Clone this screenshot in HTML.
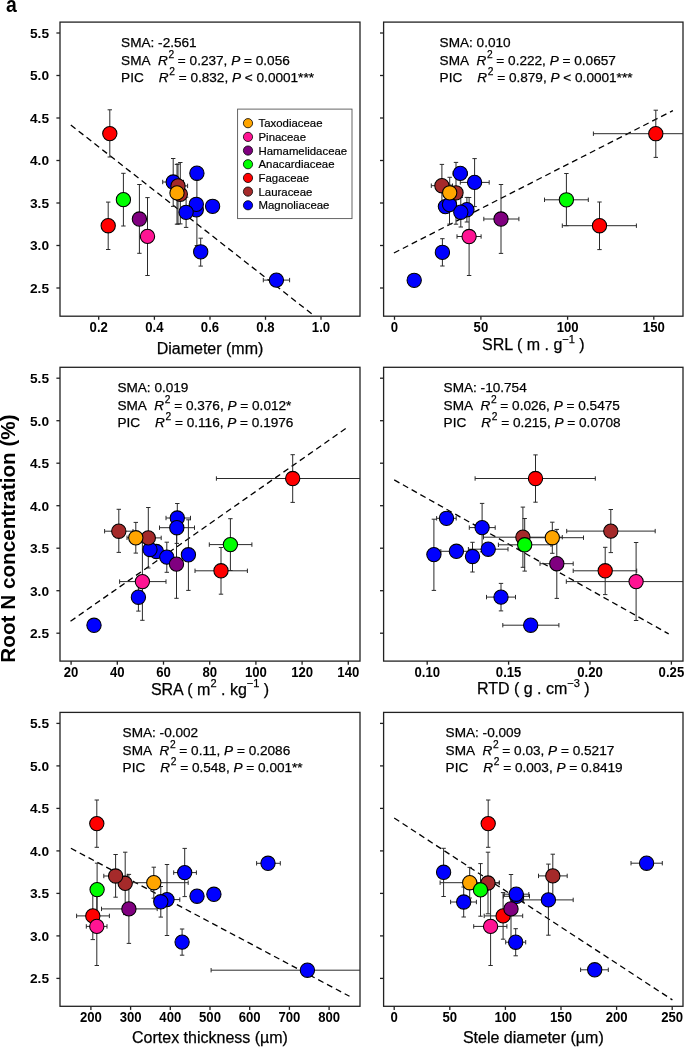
<!DOCTYPE html><html><head><meta charset="utf-8"><style>html,body{margin:0;padding:0;background:#fff;}svg{display:block;will-change:transform;}</style></head><body>
<svg width="685" height="1047" viewBox="0 0 685 1047" font-family='"Liberation Sans", sans-serif'>
<rect width="685" height="1047" fill="#fff"/>
<text transform="translate(6.0,11.8) scale(0.88,1)" font-size="22" font-weight="bold" fill="#000">a</text>
<text transform="translate(15.1,538.5) rotate(-90)" text-anchor="middle" font-size="20.7" font-weight="bold" fill="#000">Root N concentration (%)</text>
<clipPath id="c1"><rect x="60" y="22.1" width="300" height="294.1"/></clipPath>
<rect x="60" y="22.1" width="300" height="294.1" fill="none" stroke="#222" stroke-width="1.3"/>
<line x1="56.4" y1="33" x2="60" y2="33" stroke="#222" stroke-width="1.3"/>
<text transform="translate(49,37.8) scale(1,1)" text-anchor="end" font-size="13.7" font-weight="bold" fill="#000">5.5</text>
<line x1="56.4" y1="75.5" x2="60" y2="75.5" stroke="#222" stroke-width="1.3"/>
<text transform="translate(49,80.3) scale(1,1)" text-anchor="end" font-size="13.7" font-weight="bold" fill="#000">5.0</text>
<line x1="56.4" y1="118" x2="60" y2="118" stroke="#222" stroke-width="1.3"/>
<text transform="translate(49,122.8) scale(1,1)" text-anchor="end" font-size="13.7" font-weight="bold" fill="#000">4.5</text>
<line x1="56.4" y1="160.5" x2="60" y2="160.5" stroke="#222" stroke-width="1.3"/>
<text transform="translate(49,165.3) scale(1,1)" text-anchor="end" font-size="13.7" font-weight="bold" fill="#000">4.0</text>
<line x1="56.4" y1="203" x2="60" y2="203" stroke="#222" stroke-width="1.3"/>
<text transform="translate(49,207.8) scale(1,1)" text-anchor="end" font-size="13.7" font-weight="bold" fill="#000">3.5</text>
<line x1="56.4" y1="245.5" x2="60" y2="245.5" stroke="#222" stroke-width="1.3"/>
<text transform="translate(49,250.3) scale(1,1)" text-anchor="end" font-size="13.7" font-weight="bold" fill="#000">3.0</text>
<line x1="56.4" y1="288" x2="60" y2="288" stroke="#222" stroke-width="1.3"/>
<text transform="translate(49,292.8) scale(1,1)" text-anchor="end" font-size="13.7" font-weight="bold" fill="#000">2.5</text>
<line x1="98.7" y1="316.2" x2="98.7" y2="319.8" stroke="#222" stroke-width="1.3"/>
<text transform="translate(98.7,331.7) scale(0.92,1)" text-anchor="middle" font-size="14.3" font-weight="bold" fill="#000">0.2</text>
<line x1="154.4" y1="316.2" x2="154.4" y2="319.8" stroke="#222" stroke-width="1.3"/>
<text transform="translate(154.4,331.7) scale(0.92,1)" text-anchor="middle" font-size="14.3" font-weight="bold" fill="#000">0.4</text>
<line x1="210" y1="316.2" x2="210" y2="319.8" stroke="#222" stroke-width="1.3"/>
<text transform="translate(210,331.7) scale(0.92,1)" text-anchor="middle" font-size="14.3" font-weight="bold" fill="#000">0.6</text>
<line x1="265.5" y1="316.2" x2="265.5" y2="319.8" stroke="#222" stroke-width="1.3"/>
<text transform="translate(265.5,331.7) scale(0.92,1)" text-anchor="middle" font-size="14.3" font-weight="bold" fill="#000">0.8</text>
<line x1="321" y1="316.2" x2="321" y2="319.8" stroke="#222" stroke-width="1.3"/>
<text transform="translate(321,331.7) scale(0.92,1)" text-anchor="middle" font-size="14.3" font-weight="bold" fill="#000">1.0</text>
<text x="210" y="353.5" text-anchor="middle" font-size="16" fill="#000" stroke="#000" stroke-width="0.25">Diameter (mm)</text>
<g font-size="13.6" fill="#000" stroke="#000" stroke-width="0.25">
<text x="121.1" y="46.7">SMA: -2.561</text>
<text x="121.1" y="64.5">SMA</text>
<text x="158" y="64.5"><tspan font-style="italic">R</tspan><tspan dx="0.6" dy="-6.5" font-size="10.2">2</tspan><tspan dy="6.5"> = 0.237, </tspan><tspan font-style="italic">P</tspan> = 0.056</text>
<text x="121.1" y="81.5">PIC</text>
<text x="158.8" y="81.5"><tspan font-style="italic">R</tspan><tspan dx="0.6" dy="-6.5" font-size="10.2">2</tspan><tspan dy="6.5"> = 0.832, </tspan><tspan font-style="italic">P</tspan> &lt; 0.0001***</text>
</g>
<g clip-path="url(#c1)">
<line x1="70.8" y1="125" x2="311.8" y2="313.9" stroke="#000" stroke-width="1.3" stroke-dasharray="6 4"/>
<g stroke="#2a2a2a" stroke-width="1" fill="none">
<path d="M109.8 109.8V157M107.6 109.8h4.4M107.6 157h4.4"/>
<path d="M108.2 202.1V249.5M106 202.1h4.4M106 249.5h4.4"/>
<path d="M123.4 173.3V226M121.2 173.3h4.4M121.2 226h4.4"/>
<path d="M139.4 184.5V253.3M137.2 184.5h4.4M137.2 253.3h4.4"/>
<path d="M147.5 197.6V275.5M145.3 197.6h4.4M145.3 275.5h4.4"/>
<path d="M173.2 158.5V206.4M171 158.5h4.4M171 206.4h4.4"/>
<path d="M162.7 182H183.5M162.7 179.8v4.4M183.5 179.8v4.4"/>
<path d="M177 164.4V224.2M174.8 164.4h4.4M174.8 224.2h4.4"/>
<path d="M180.3 162.5V223.9M178.1 162.5h4.4M178.1 223.9h4.4"/>
<path d="M178 164V224M175.8 164h4.4M175.8 224h4.4"/>
<path d="M168.5 185.9H187.6M168.5 183.7v4.4M187.6 183.7v4.4"/>
<path d="M196.9 180V245.5M194.7 180h4.4M194.7 245.5h4.4"/>
<path d="M186.1 197.2V227.4M183.9 197.2h4.4M183.9 227.4h4.4"/>
<path d="M200.7 238.2V266.1M198.5 238.2h4.4M198.5 266.1h4.4"/>
<path d="M263.3 280.1H289.6M263.3 277.9v4.4M289.6 277.9v4.4"/>
</g>
<circle cx="173.2" cy="182" r="7.15" fill="#0000FF" stroke="#000" stroke-width="1.05"/>
<circle cx="196.9" cy="173.2" r="7.15" fill="#0000FF" stroke="#000" stroke-width="1.05"/>
<circle cx="196.3" cy="209.8" r="7.15" fill="#0000FF" stroke="#000" stroke-width="1.05"/>
<circle cx="196.3" cy="204.3" r="7.15" fill="#0000FF" stroke="#000" stroke-width="1.05"/>
<circle cx="186.1" cy="212.3" r="7.15" fill="#0000FF" stroke="#000" stroke-width="1.05"/>
<circle cx="212.6" cy="206.3" r="7.15" fill="#0000FF" stroke="#000" stroke-width="1.05"/>
<circle cx="200.7" cy="251.8" r="7.15" fill="#0000FF" stroke="#000" stroke-width="1.05"/>
<circle cx="276.4" cy="280.1" r="7.15" fill="#0000FF" stroke="#000" stroke-width="1.05"/>
<circle cx="180.3" cy="194.2" r="7.15" fill="#A52A2A" stroke="#000" stroke-width="1.05"/>
<circle cx="178" cy="185.9" r="7.15" fill="#A52A2A" stroke="#000" stroke-width="1.05"/>
<circle cx="109.8" cy="133.6" r="7.15" fill="#FF0000" stroke="#000" stroke-width="1.05"/>
<circle cx="108.2" cy="225.7" r="7.15" fill="#FF0000" stroke="#000" stroke-width="1.05"/>
<circle cx="177" cy="192.9" r="7.15" fill="#FFA500" stroke="#000" stroke-width="1.05"/>
<circle cx="123.4" cy="199.65" r="7.15" fill="#00FF00" stroke="#000" stroke-width="1.05"/>
<circle cx="147.5" cy="236.4" r="7.15" fill="#FF1493" stroke="#000" stroke-width="1.05"/>
<circle cx="139.4" cy="219" r="7.15" fill="#800080" stroke="#000" stroke-width="1.05"/>
</g>
<clipPath id="c2"><rect x="383.6" y="22.1" width="299.4" height="294.1"/></clipPath>
<rect x="383.6" y="22.1" width="299.4" height="294.1" fill="none" stroke="#222" stroke-width="1.3"/>
<line x1="380" y1="33" x2="383.6" y2="33" stroke="#222" stroke-width="1.3"/>
<line x1="380" y1="75.5" x2="383.6" y2="75.5" stroke="#222" stroke-width="1.3"/>
<line x1="380" y1="118" x2="383.6" y2="118" stroke="#222" stroke-width="1.3"/>
<line x1="380" y1="160.5" x2="383.6" y2="160.5" stroke="#222" stroke-width="1.3"/>
<line x1="380" y1="203" x2="383.6" y2="203" stroke="#222" stroke-width="1.3"/>
<line x1="380" y1="245.5" x2="383.6" y2="245.5" stroke="#222" stroke-width="1.3"/>
<line x1="380" y1="288" x2="383.6" y2="288" stroke="#222" stroke-width="1.3"/>
<line x1="394.5" y1="316.2" x2="394.5" y2="319.8" stroke="#222" stroke-width="1.3"/>
<text transform="translate(394.5,331.7) scale(0.92,1)" text-anchor="middle" font-size="14.3" font-weight="bold" fill="#000">0</text>
<line x1="480.9" y1="316.2" x2="480.9" y2="319.8" stroke="#222" stroke-width="1.3"/>
<text transform="translate(480.9,331.7) scale(0.92,1)" text-anchor="middle" font-size="14.3" font-weight="bold" fill="#000">50</text>
<line x1="567.6" y1="316.2" x2="567.6" y2="319.8" stroke="#222" stroke-width="1.3"/>
<text transform="translate(567.6,331.7) scale(0.92,1)" text-anchor="middle" font-size="14.3" font-weight="bold" fill="#000">100</text>
<line x1="653.8" y1="316.2" x2="653.8" y2="319.8" stroke="#222" stroke-width="1.3"/>
<text transform="translate(653.8,331.7) scale(0.92,1)" text-anchor="middle" font-size="14.3" font-weight="bold" fill="#000">150</text>
<text x="533.3" y="350" text-anchor="middle" font-size="16" fill="#000" stroke="#000" stroke-width="0.25">SRL ( m . g<tspan dy="-7.2" font-size="11">−1</tspan><tspan dy="7.2"> )</tspan></text>
<g font-size="13.6" fill="#000" stroke="#000" stroke-width="0.25">
<text x="439.6" y="46.7">SMA: 0.010</text>
<text x="439.6" y="64.5">SMA</text>
<text x="476.5" y="64.5"><tspan font-style="italic">R</tspan><tspan dx="0.6" dy="-6.5" font-size="10.2">2</tspan><tspan dy="6.5"> = 0.222, </tspan><tspan font-style="italic">P</tspan> = 0.0657</text>
<text x="439.6" y="81.5">PIC</text>
<text x="477.3" y="81.5"><tspan font-style="italic">R</tspan><tspan dx="0.6" dy="-6.5" font-size="10.2">2</tspan><tspan dy="6.5"> = 0.879, </tspan><tspan font-style="italic">P</tspan> &lt; 0.0001***</text>
</g>
<g clip-path="url(#c2)">
<line x1="393.9" y1="253" x2="672.9" y2="110.6" stroke="#000" stroke-width="1.3" stroke-dasharray="6 4"/>
<g stroke="#2a2a2a" stroke-width="1" fill="none">
<path d="M655.8 110.2V157.4M653.6 110.2h4.4M653.6 157.4h4.4"/>
<path d="M593.4 133.7H690M593.4 131.5v4.4M690 131.5v4.4"/>
<path d="M566.4 173.5V225.7M564.2 173.5h4.4M564.2 225.7h4.4"/>
<path d="M544.5 199.8H588.3M544.5 197.6v4.4M588.3 197.6v4.4"/>
<path d="M599.5 202V249.6M597.3 202h4.4M597.3 249.6h4.4"/>
<path d="M562.3 225.7H636.4M562.3 223.5v4.4M636.4 223.5v4.4"/>
<path d="M501 184.5V253.4M498.8 184.5h4.4M498.8 253.4h4.4"/>
<path d="M483.8 219H518.9M483.8 216.8v4.4M518.9 216.8v4.4"/>
<path d="M469.1 197.5V275.5M466.9 197.5h4.4M466.9 275.5h4.4"/>
<path d="M457 236.5H481.1M457 234.3v4.4M481.1 234.3v4.4"/>
<path d="M442.4 238.7V266M440.2 238.7h4.4M440.2 266h4.4"/>
<path d="M453 173.4H467.4M453 171.2v4.4M467.4 171.2v4.4"/>
<path d="M474.6 158.6V206.6M472.4 158.6h4.4M472.4 206.6h4.4"/>
<path d="M460.3 182.4H489.2M460.3 180.2v4.4M489.2 180.2v4.4"/>
<path d="M449.5 185V224.1M447.3 185h4.4M447.3 224.1h4.4"/>
<path d="M466.9 197.4V222M464.7 197.4h4.4M464.7 222h4.4"/>
<path d="M460.8 197.4V227M458.6 197.4h4.4M458.6 227h4.4"/>
<path d="M441.9 164.4V207M439.7 164.4h4.4M439.7 207h4.4"/>
<path d="M431.3 185.7H452.5M431.3 183.5v4.4M452.5 183.5v4.4"/>
<path d="M456 162.4V224.2M453.8 162.4h4.4M453.8 224.2h4.4"/>
<path d="M449.7 177.3V208.3M447.5 177.3h4.4M447.5 208.3h4.4"/>
</g>
<circle cx="442.4" cy="252.3" r="7.15" fill="#0000FF" stroke="#000" stroke-width="1.05"/>
<circle cx="414.2" cy="280.3" r="7.15" fill="#0000FF" stroke="#000" stroke-width="1.05"/>
<circle cx="460.3" cy="173.4" r="7.15" fill="#0000FF" stroke="#000" stroke-width="1.05"/>
<circle cx="474.6" cy="182.4" r="7.15" fill="#0000FF" stroke="#000" stroke-width="1.05"/>
<circle cx="445.4" cy="206.6" r="7.15" fill="#0000FF" stroke="#000" stroke-width="1.05"/>
<circle cx="449.5" cy="204.6" r="7.15" fill="#0000FF" stroke="#000" stroke-width="1.05"/>
<circle cx="466.9" cy="209.7" r="7.15" fill="#0000FF" stroke="#000" stroke-width="1.05"/>
<circle cx="460.8" cy="212.2" r="7.15" fill="#0000FF" stroke="#000" stroke-width="1.05"/>
<circle cx="441.9" cy="185.7" r="7.15" fill="#A52A2A" stroke="#000" stroke-width="1.05"/>
<circle cx="456" cy="192.8" r="7.15" fill="#A52A2A" stroke="#000" stroke-width="1.05"/>
<circle cx="655.8" cy="133.7" r="7.15" fill="#FF0000" stroke="#000" stroke-width="1.05"/>
<circle cx="599.5" cy="225.7" r="7.15" fill="#FF0000" stroke="#000" stroke-width="1.05"/>
<circle cx="449.7" cy="192.8" r="7.15" fill="#FFA500" stroke="#000" stroke-width="1.05"/>
<circle cx="566.4" cy="199.8" r="7.15" fill="#00FF00" stroke="#000" stroke-width="1.05"/>
<circle cx="469.1" cy="236.5" r="7.15" fill="#FF1493" stroke="#000" stroke-width="1.05"/>
<circle cx="501" cy="219" r="7.15" fill="#800080" stroke="#000" stroke-width="1.05"/>
</g>
<clipPath id="c3"><rect x="60" y="367.3" width="300" height="293.8"/></clipPath>
<rect x="60" y="367.3" width="300" height="293.8" fill="none" stroke="#222" stroke-width="1.3"/>
<line x1="56.4" y1="378.2" x2="60" y2="378.2" stroke="#222" stroke-width="1.3"/>
<text transform="translate(49,383) scale(1,1)" text-anchor="end" font-size="13.7" font-weight="bold" fill="#000">5.5</text>
<line x1="56.4" y1="420.7" x2="60" y2="420.7" stroke="#222" stroke-width="1.3"/>
<text transform="translate(49,425.5) scale(1,1)" text-anchor="end" font-size="13.7" font-weight="bold" fill="#000">5.0</text>
<line x1="56.4" y1="463.2" x2="60" y2="463.2" stroke="#222" stroke-width="1.3"/>
<text transform="translate(49,468) scale(1,1)" text-anchor="end" font-size="13.7" font-weight="bold" fill="#000">4.5</text>
<line x1="56.4" y1="505.7" x2="60" y2="505.7" stroke="#222" stroke-width="1.3"/>
<text transform="translate(49,510.5) scale(1,1)" text-anchor="end" font-size="13.7" font-weight="bold" fill="#000">4.0</text>
<line x1="56.4" y1="548.2" x2="60" y2="548.2" stroke="#222" stroke-width="1.3"/>
<text transform="translate(49,553) scale(1,1)" text-anchor="end" font-size="13.7" font-weight="bold" fill="#000">3.5</text>
<line x1="56.4" y1="590.7" x2="60" y2="590.7" stroke="#222" stroke-width="1.3"/>
<text transform="translate(49,595.5) scale(1,1)" text-anchor="end" font-size="13.7" font-weight="bold" fill="#000">3.0</text>
<line x1="56.4" y1="633.2" x2="60" y2="633.2" stroke="#222" stroke-width="1.3"/>
<text transform="translate(49,638) scale(1,1)" text-anchor="end" font-size="13.7" font-weight="bold" fill="#000">2.5</text>
<line x1="71.1" y1="661.1" x2="71.1" y2="664.7" stroke="#222" stroke-width="1.3"/>
<text transform="translate(71.1,676.6) scale(0.92,1)" text-anchor="middle" font-size="14.3" font-weight="bold" fill="#000">20</text>
<line x1="117.3" y1="661.1" x2="117.3" y2="664.7" stroke="#222" stroke-width="1.3"/>
<text transform="translate(117.3,676.6) scale(0.92,1)" text-anchor="middle" font-size="14.3" font-weight="bold" fill="#000">40</text>
<line x1="163.5" y1="661.1" x2="163.5" y2="664.7" stroke="#222" stroke-width="1.3"/>
<text transform="translate(163.5,676.6) scale(0.92,1)" text-anchor="middle" font-size="14.3" font-weight="bold" fill="#000">60</text>
<line x1="209.7" y1="661.1" x2="209.7" y2="664.7" stroke="#222" stroke-width="1.3"/>
<text transform="translate(209.7,676.6) scale(0.92,1)" text-anchor="middle" font-size="14.3" font-weight="bold" fill="#000">80</text>
<line x1="255.9" y1="661.1" x2="255.9" y2="664.7" stroke="#222" stroke-width="1.3"/>
<text transform="translate(255.9,676.6) scale(0.92,1)" text-anchor="middle" font-size="14.3" font-weight="bold" fill="#000">100</text>
<line x1="302.1" y1="661.1" x2="302.1" y2="664.7" stroke="#222" stroke-width="1.3"/>
<text transform="translate(302.1,676.6) scale(0.92,1)" text-anchor="middle" font-size="14.3" font-weight="bold" fill="#000">120</text>
<line x1="348.3" y1="661.1" x2="348.3" y2="664.7" stroke="#222" stroke-width="1.3"/>
<text transform="translate(348.3,676.6) scale(0.92,1)" text-anchor="middle" font-size="14.3" font-weight="bold" fill="#000">140</text>
<text x="210" y="694.6" text-anchor="middle" font-size="16" fill="#000" stroke="#000" stroke-width="0.25">SRA ( m<tspan dy="-7.2" font-size="11">2</tspan><tspan dy="7.2"> . kg</tspan><tspan dy="-7.2" font-size="11">−1</tspan><tspan dy="7.2"> )</tspan></text>
<g font-size="13.6" fill="#000" stroke="#000" stroke-width="0.25">
<text x="117.4" y="391.9">SMA: 0.019</text>
<text x="117.4" y="409.7">SMA</text>
<text x="154.3" y="409.7"><tspan font-style="italic">R</tspan><tspan dx="0.6" dy="-6.5" font-size="10.2">2</tspan><tspan dy="6.5"> = 0.376, </tspan><tspan font-style="italic">P</tspan> = 0.012*</text>
<text x="117.4" y="426.7">PIC</text>
<text x="155.1" y="426.7"><tspan font-style="italic">R</tspan><tspan dx="0.6" dy="-6.5" font-size="10.2">2</tspan><tspan dy="6.5"> = 0.116, </tspan><tspan font-style="italic">P</tspan> = 0.1976</text>
</g>
<g clip-path="url(#c3)">
<line x1="70.5" y1="621.3" x2="347.7" y2="427.1" stroke="#000" stroke-width="1.3" stroke-dasharray="6 4"/>
<g stroke="#2a2a2a" stroke-width="1" fill="none">
<path d="M292.7 454.7V502.4M290.5 454.7h4.4M290.5 502.4h4.4"/>
<path d="M216.4 478.5H370M216.4 476.3v4.4M370 476.3v4.4"/>
<path d="M230.4 518.7V570.5M228.2 518.7h4.4M228.2 570.5h4.4"/>
<path d="M209.3 544.6H251.9M209.3 542.4v4.4M251.9 542.4v4.4"/>
<path d="M221 547.5V594.2M218.8 547.5h4.4M218.8 594.2h4.4"/>
<path d="M195 570.8H247.4M195 568.6v4.4M247.4 568.6v4.4"/>
<path d="M118.8 509.3V552.4M116.6 509.3h4.4M116.6 552.4h4.4"/>
<path d="M104.6 531.2H133M104.6 529v4.4M133 529v4.4"/>
<path d="M135.8 522.4V553.1M133.6 522.4h4.4M133.6 553.1h4.4"/>
<path d="M127 537.8H144.6M127 535.6v4.4M144.6 535.6v4.4"/>
<path d="M148.3 507.5V568M146.1 507.5h4.4M146.1 568h4.4"/>
<path d="M135.4 537.9H161.2M135.4 535.7v4.4M161.2 535.7v4.4"/>
<path d="M177.3 503.5V532.5M175.1 503.5h4.4M175.1 532.5h4.4"/>
<path d="M166 518H190.5M166 515.8v4.4M190.5 515.8v4.4"/>
<path d="M176.8 512V543.4M174.6 512h4.4M174.6 543.4h4.4"/>
<path d="M159.5 527.7H194.5M159.5 525.5v4.4M194.5 525.5v4.4"/>
<path d="M166.8 542.2V572.3M164.6 542.2h4.4M164.6 572.3h4.4"/>
<path d="M188.4 519.8V590.4M186.2 519.8h4.4M186.2 590.4h4.4"/>
<path d="M176.5 529.9V598.3M174.3 529.9h4.4M174.3 598.3h4.4"/>
<path d="M142.4 542.6V620.3M140.2 542.6h4.4M140.2 620.3h4.4"/>
<path d="M119.6 581.6H166M119.6 579.4v4.4M166 579.4v4.4"/>
<path d="M138.4 583.3V611.1M136.2 583.3h4.4M136.2 611.1h4.4"/>
</g>
<circle cx="177.3" cy="518" r="7.15" fill="#0000FF" stroke="#000" stroke-width="1.05"/>
<circle cx="176.8" cy="527.7" r="7.15" fill="#0000FF" stroke="#000" stroke-width="1.05"/>
<circle cx="156.4" cy="551.5" r="7.15" fill="#0000FF" stroke="#000" stroke-width="1.05"/>
<circle cx="150" cy="549.5" r="7.15" fill="#0000FF" stroke="#000" stroke-width="1.05"/>
<circle cx="166.8" cy="557.1" r="7.15" fill="#0000FF" stroke="#000" stroke-width="1.05"/>
<circle cx="188.4" cy="554.8" r="7.15" fill="#0000FF" stroke="#000" stroke-width="1.05"/>
<circle cx="138.4" cy="597.2" r="7.15" fill="#0000FF" stroke="#000" stroke-width="1.05"/>
<circle cx="94" cy="625.3" r="7.15" fill="#0000FF" stroke="#000" stroke-width="1.05"/>
<circle cx="118.8" cy="531.2" r="7.15" fill="#A52A2A" stroke="#000" stroke-width="1.05"/>
<circle cx="148.3" cy="537.9" r="7.15" fill="#A52A2A" stroke="#000" stroke-width="1.05"/>
<circle cx="292.7" cy="478.5" r="7.15" fill="#FF0000" stroke="#000" stroke-width="1.05"/>
<circle cx="221" cy="570.8" r="7.15" fill="#FF0000" stroke="#000" stroke-width="1.05"/>
<circle cx="135.8" cy="537.8" r="7.15" fill="#FFA500" stroke="#000" stroke-width="1.05"/>
<circle cx="230.4" cy="544.6" r="7.15" fill="#00FF00" stroke="#000" stroke-width="1.05"/>
<circle cx="142.4" cy="581.6" r="7.15" fill="#FF1493" stroke="#000" stroke-width="1.05"/>
<circle cx="176.5" cy="564.1" r="7.15" fill="#800080" stroke="#000" stroke-width="1.05"/>
</g>
<clipPath id="c4"><rect x="383.6" y="367.3" width="299.4" height="293.8"/></clipPath>
<rect x="383.6" y="367.3" width="299.4" height="293.8" fill="none" stroke="#222" stroke-width="1.3"/>
<line x1="380" y1="378.2" x2="383.6" y2="378.2" stroke="#222" stroke-width="1.3"/>
<line x1="380" y1="420.7" x2="383.6" y2="420.7" stroke="#222" stroke-width="1.3"/>
<line x1="380" y1="463.2" x2="383.6" y2="463.2" stroke="#222" stroke-width="1.3"/>
<line x1="380" y1="505.7" x2="383.6" y2="505.7" stroke="#222" stroke-width="1.3"/>
<line x1="380" y1="548.2" x2="383.6" y2="548.2" stroke="#222" stroke-width="1.3"/>
<line x1="380" y1="590.7" x2="383.6" y2="590.7" stroke="#222" stroke-width="1.3"/>
<line x1="380" y1="633.2" x2="383.6" y2="633.2" stroke="#222" stroke-width="1.3"/>
<line x1="427.2" y1="661.1" x2="427.2" y2="664.7" stroke="#222" stroke-width="1.3"/>
<text transform="translate(427.2,676.6) scale(0.92,1)" text-anchor="middle" font-size="14.3" font-weight="bold" fill="#000">0.10</text>
<line x1="508.6" y1="661.1" x2="508.6" y2="664.7" stroke="#222" stroke-width="1.3"/>
<text transform="translate(508.6,676.6) scale(0.92,1)" text-anchor="middle" font-size="14.3" font-weight="bold" fill="#000">0.15</text>
<line x1="590" y1="661.1" x2="590" y2="664.7" stroke="#222" stroke-width="1.3"/>
<text transform="translate(590,676.6) scale(0.92,1)" text-anchor="middle" font-size="14.3" font-weight="bold" fill="#000">0.20</text>
<line x1="671.4" y1="661.1" x2="671.4" y2="664.7" stroke="#222" stroke-width="1.3"/>
<text transform="translate(671.4,676.6) scale(0.92,1)" text-anchor="middle" font-size="14.3" font-weight="bold" fill="#000">0.25</text>
<text x="533.3" y="694.4" text-anchor="middle" font-size="16" fill="#000" stroke="#000" stroke-width="0.25">RTD ( g . cm<tspan dy="-7.2" font-size="11">−3</tspan><tspan dy="7.2"> )</tspan></text>
<g font-size="13.6" fill="#000" stroke="#000" stroke-width="0.25">
<text x="443.6" y="391.9">SMA: -10.754</text>
<text x="443.6" y="409.7">SMA</text>
<text x="480.5" y="409.7"><tspan font-style="italic">R</tspan><tspan dx="0.6" dy="-6.5" font-size="10.2">2</tspan><tspan dy="6.5"> = 0.026, </tspan><tspan font-style="italic">P</tspan> = 0.5475</text>
<text x="443.6" y="426.7">PIC</text>
<text x="481.3" y="426.7"><tspan font-style="italic">R</tspan><tspan dx="0.6" dy="-6.5" font-size="10.2">2</tspan><tspan dy="6.5"> = 0.215, </tspan><tspan font-style="italic">P</tspan> = 0.0708</text>
</g>
<g clip-path="url(#c4)">
<line x1="394.2" y1="479.9" x2="668.7" y2="633.9" stroke="#000" stroke-width="1.3" stroke-dasharray="6 4"/>
<g stroke="#2a2a2a" stroke-width="1" fill="none">
<path d="M535.5 454.9V502.2M533.3 454.9h4.4M533.3 502.2h4.4"/>
<path d="M475.1 478.5H595.3M475.1 476.3v4.4M595.3 476.3v4.4"/>
<path d="M610.8 509.5V552.6M608.6 509.5h4.4M608.6 552.6h4.4"/>
<path d="M566.7 531.1H655.2M566.7 528.9v4.4M655.2 528.9v4.4"/>
<path d="M522.9 507.1V567.3M520.7 507.1h4.4M520.7 567.3h4.4"/>
<path d="M483.5 537.2H562.3M483.5 535v4.4M562.3 535v4.4"/>
<path d="M524.7 518.5V571.1M522.5 518.5h4.4M522.5 571.1h4.4"/>
<path d="M498.4 544.8H551M498.4 542.6v4.4M551 542.6v4.4"/>
<path d="M552.3 522.2V553.3M550.1 522.2h4.4M550.1 553.3h4.4"/>
<path d="M521.1 537.7H583.5M521.1 535.5v4.4M583.5 535.5v4.4"/>
<path d="M556.8 529.4V598.4M554.6 529.4h4.4M554.6 598.4h4.4"/>
<path d="M540 563.7H573.2M540 561.5v4.4M573.2 561.5v4.4"/>
<path d="M605.2 547.3V594.6M603 547.3h4.4M603 594.6h4.4"/>
<path d="M573.2 570.8H636.7M573.2 568.6v4.4M636.7 568.6v4.4"/>
<path d="M636.1 542.5V620.5M633.9 542.5h4.4M633.9 620.5h4.4"/>
<path d="M566.3 581.6H690M566.3 579.4v4.4M690 579.4v4.4"/>
<path d="M436.6 518.3H456.2M436.6 516.1v4.4M456.2 516.1v4.4"/>
<path d="M482.1 503.4V551.8M479.9 503.4h4.4M479.9 551.8h4.4"/>
<path d="M469.3 527.6H495.2M469.3 525.4v4.4M495.2 525.4v4.4"/>
<path d="M433.9 519.2V590.4M431.7 519.2h4.4M431.7 590.4h4.4"/>
<path d="M440.8 551.3H472M440.8 549.1v4.4M472 549.1v4.4"/>
<path d="M472.5 542.3V572M470.3 542.3h4.4M470.3 572h4.4"/>
<path d="M468.4 549.2H508M468.4 547v4.4M508 547v4.4"/>
<path d="M501 583.4V610.9M498.8 583.4h4.4M498.8 610.9h4.4"/>
<path d="M486.5 597.1H515.5M486.5 594.9v4.4M515.5 594.9v4.4"/>
<path d="M502.8 625.2H558.9M502.8 623v4.4M558.9 623v4.4"/>
</g>
<circle cx="446.5" cy="518.3" r="7.15" fill="#0000FF" stroke="#000" stroke-width="1.05"/>
<circle cx="482.1" cy="527.6" r="7.15" fill="#0000FF" stroke="#000" stroke-width="1.05"/>
<circle cx="433.9" cy="554.6" r="7.15" fill="#0000FF" stroke="#000" stroke-width="1.05"/>
<circle cx="456.4" cy="551.3" r="7.15" fill="#0000FF" stroke="#000" stroke-width="1.05"/>
<circle cx="472.5" cy="556.5" r="7.15" fill="#0000FF" stroke="#000" stroke-width="1.05"/>
<circle cx="488.2" cy="549.2" r="7.15" fill="#0000FF" stroke="#000" stroke-width="1.05"/>
<circle cx="501" cy="597.1" r="7.15" fill="#0000FF" stroke="#000" stroke-width="1.05"/>
<circle cx="530.7" cy="625.2" r="7.15" fill="#0000FF" stroke="#000" stroke-width="1.05"/>
<circle cx="610.8" cy="531.1" r="7.15" fill="#A52A2A" stroke="#000" stroke-width="1.05"/>
<circle cx="522.9" cy="537.2" r="7.15" fill="#A52A2A" stroke="#000" stroke-width="1.05"/>
<circle cx="535.5" cy="478.5" r="7.15" fill="#FF0000" stroke="#000" stroke-width="1.05"/>
<circle cx="605.2" cy="570.8" r="7.15" fill="#FF0000" stroke="#000" stroke-width="1.05"/>
<circle cx="552.3" cy="537.7" r="7.15" fill="#FFA500" stroke="#000" stroke-width="1.05"/>
<circle cx="524.7" cy="544.8" r="7.15" fill="#00FF00" stroke="#000" stroke-width="1.05"/>
<circle cx="636.1" cy="581.6" r="7.15" fill="#FF1493" stroke="#000" stroke-width="1.05"/>
<circle cx="556.8" cy="563.7" r="7.15" fill="#800080" stroke="#000" stroke-width="1.05"/>
</g>
<clipPath id="c5"><rect x="60" y="712.4" width="300" height="293.9"/></clipPath>
<rect x="60" y="712.4" width="300" height="293.9" fill="none" stroke="#222" stroke-width="1.3"/>
<line x1="56.4" y1="723.4" x2="60" y2="723.4" stroke="#222" stroke-width="1.3"/>
<text transform="translate(49,728.2) scale(1,1)" text-anchor="end" font-size="13.7" font-weight="bold" fill="#000">5.5</text>
<line x1="56.4" y1="765.9" x2="60" y2="765.9" stroke="#222" stroke-width="1.3"/>
<text transform="translate(49,770.7) scale(1,1)" text-anchor="end" font-size="13.7" font-weight="bold" fill="#000">5.0</text>
<line x1="56.4" y1="808.4" x2="60" y2="808.4" stroke="#222" stroke-width="1.3"/>
<text transform="translate(49,813.2) scale(1,1)" text-anchor="end" font-size="13.7" font-weight="bold" fill="#000">4.5</text>
<line x1="56.4" y1="850.9" x2="60" y2="850.9" stroke="#222" stroke-width="1.3"/>
<text transform="translate(49,855.7) scale(1,1)" text-anchor="end" font-size="13.7" font-weight="bold" fill="#000">4.0</text>
<line x1="56.4" y1="893.4" x2="60" y2="893.4" stroke="#222" stroke-width="1.3"/>
<text transform="translate(49,898.2) scale(1,1)" text-anchor="end" font-size="13.7" font-weight="bold" fill="#000">3.5</text>
<line x1="56.4" y1="935.9" x2="60" y2="935.9" stroke="#222" stroke-width="1.3"/>
<text transform="translate(49,940.7) scale(1,1)" text-anchor="end" font-size="13.7" font-weight="bold" fill="#000">3.0</text>
<line x1="56.4" y1="978.4" x2="60" y2="978.4" stroke="#222" stroke-width="1.3"/>
<text transform="translate(49,983.2) scale(1,1)" text-anchor="end" font-size="13.7" font-weight="bold" fill="#000">2.5</text>
<line x1="90.9" y1="1006.3" x2="90.9" y2="1009.9" stroke="#222" stroke-width="1.3"/>
<text transform="translate(90.9,1021.8) scale(0.92,1)" text-anchor="middle" font-size="14.3" font-weight="bold" fill="#000">200</text>
<line x1="130.6" y1="1006.3" x2="130.6" y2="1009.9" stroke="#222" stroke-width="1.3"/>
<text transform="translate(130.6,1021.8) scale(0.92,1)" text-anchor="middle" font-size="14.3" font-weight="bold" fill="#000">300</text>
<line x1="170.3" y1="1006.3" x2="170.3" y2="1009.9" stroke="#222" stroke-width="1.3"/>
<text transform="translate(170.3,1021.8) scale(0.92,1)" text-anchor="middle" font-size="14.3" font-weight="bold" fill="#000">400</text>
<line x1="210" y1="1006.3" x2="210" y2="1009.9" stroke="#222" stroke-width="1.3"/>
<text transform="translate(210,1021.8) scale(0.92,1)" text-anchor="middle" font-size="14.3" font-weight="bold" fill="#000">500</text>
<line x1="249.7" y1="1006.3" x2="249.7" y2="1009.9" stroke="#222" stroke-width="1.3"/>
<text transform="translate(249.7,1021.8) scale(0.92,1)" text-anchor="middle" font-size="14.3" font-weight="bold" fill="#000">600</text>
<line x1="289.4" y1="1006.3" x2="289.4" y2="1009.9" stroke="#222" stroke-width="1.3"/>
<text transform="translate(289.4,1021.8) scale(0.92,1)" text-anchor="middle" font-size="14.3" font-weight="bold" fill="#000">700</text>
<line x1="329.1" y1="1006.3" x2="329.1" y2="1009.9" stroke="#222" stroke-width="1.3"/>
<text transform="translate(329.1,1021.8) scale(0.92,1)" text-anchor="middle" font-size="14.3" font-weight="bold" fill="#000">800</text>
<text x="210" y="1043.1" text-anchor="middle" font-size="16" fill="#000" stroke="#000" stroke-width="0.25">Cortex thickness (µm)</text>
<g font-size="13.6" fill="#000" stroke="#000" stroke-width="0.25">
<text x="122.6" y="737">SMA: -0.002</text>
<text x="122.6" y="754.8">SMA</text>
<text x="159.5" y="754.8"><tspan font-style="italic">R</tspan><tspan dx="0.6" dy="-6.5" font-size="10.2">2</tspan><tspan dy="6.5"> = 0.11, </tspan><tspan font-style="italic">P</tspan> = 0.2086</text>
<text x="122.6" y="771.8">PIC</text>
<text x="160.3" y="771.8"><tspan font-style="italic">R</tspan><tspan dx="0.6" dy="-6.5" font-size="10.2">2</tspan><tspan dy="6.5"> = 0.548, </tspan><tspan font-style="italic">P</tspan> = 0.001**</text>
</g>
<g clip-path="url(#c5)">
<line x1="70.9" y1="848.3" x2="349.5" y2="996.3" stroke="#000" stroke-width="1.3" stroke-dasharray="6 4"/>
<g stroke="#2a2a2a" stroke-width="1" fill="none">
<path d="M96.8 800V847.3M94.6 800h4.4M94.6 847.3h4.4"/>
<path d="M125.2 852.2V914.6M123 852.2h4.4M123 914.6h4.4"/>
<path d="M120.3 883.4H130.1M120.3 881.2v4.4M130.1 881.2v4.4"/>
<path d="M115.6 854.5V897.2M113.4 854.5h4.4M113.4 897.2h4.4"/>
<path d="M103.8 876H127.6M103.8 873.8v4.4M127.6 873.8v4.4"/>
<path d="M97.1 863.2V916M94.9 863.2h4.4M94.9 916h4.4"/>
<path d="M153.8 867.2V898.2M151.6 867.2h4.4M151.6 898.2h4.4"/>
<path d="M119.4 882.7H188.2M119.4 880.5v4.4M188.2 880.5v4.4"/>
<path d="M128.9 874.4V943.4M126.7 874.4h4.4M126.7 943.4h4.4"/>
<path d="M101.5 908.9H157.2M101.5 906.7v4.4M157.2 906.7v4.4"/>
<path d="M92.8 892.2V939.6M90.6 892.2h4.4M90.6 939.6h4.4"/>
<path d="M76.6 915.9H109.4M76.6 913.7v4.4M109.4 913.7v4.4"/>
<path d="M96.8 887.3V965.5M94.6 887.3h4.4M94.6 965.5h4.4"/>
<path d="M86.3 926.4H107M86.3 924.2v4.4M107 924.2v4.4"/>
<path d="M184.7 848.4V896.6M182.5 848.4h4.4M182.5 896.6h4.4"/>
<path d="M173.7 872.6H196.4M173.7 870.4v4.4M196.4 870.4v4.4"/>
<path d="M167 864.5V935.5M164.8 864.5h4.4M164.8 935.5h4.4"/>
<path d="M154.2 899.6H179.8M154.2 897.4v4.4M179.8 897.4v4.4"/>
<path d="M160.8 886.5V917.1M158.6 886.5h4.4M158.6 917.1h4.4"/>
<path d="M182.1 929V955.2M179.9 929h4.4M179.9 955.2h4.4"/>
<path d="M256.6 863.3H280.3M256.6 861.1v4.4M280.3 861.1v4.4"/>
<path d="M211.1 970.2H370M211.1 968v4.4M370 968v4.4"/>
</g>
<circle cx="184.7" cy="872.6" r="7.15" fill="#0000FF" stroke="#000" stroke-width="1.05"/>
<circle cx="167" cy="899.6" r="7.15" fill="#0000FF" stroke="#000" stroke-width="1.05"/>
<circle cx="160.8" cy="901.8" r="7.15" fill="#0000FF" stroke="#000" stroke-width="1.05"/>
<circle cx="197" cy="896.2" r="7.15" fill="#0000FF" stroke="#000" stroke-width="1.05"/>
<circle cx="213.9" cy="894.3" r="7.15" fill="#0000FF" stroke="#000" stroke-width="1.05"/>
<circle cx="182.1" cy="942.1" r="7.15" fill="#0000FF" stroke="#000" stroke-width="1.05"/>
<circle cx="268" cy="863.3" r="7.15" fill="#0000FF" stroke="#000" stroke-width="1.05"/>
<circle cx="307.4" cy="970.2" r="7.15" fill="#0000FF" stroke="#000" stroke-width="1.05"/>
<circle cx="125.2" cy="883.4" r="7.15" fill="#A52A2A" stroke="#000" stroke-width="1.05"/>
<circle cx="115.6" cy="876" r="7.15" fill="#A52A2A" stroke="#000" stroke-width="1.05"/>
<circle cx="96.8" cy="823.6" r="7.15" fill="#FF0000" stroke="#000" stroke-width="1.05"/>
<circle cx="92.8" cy="915.9" r="7.15" fill="#FF0000" stroke="#000" stroke-width="1.05"/>
<circle cx="153.8" cy="882.7" r="7.15" fill="#FFA500" stroke="#000" stroke-width="1.05"/>
<circle cx="97.1" cy="889.6" r="7.15" fill="#00FF00" stroke="#000" stroke-width="1.05"/>
<circle cx="96.8" cy="926.4" r="7.15" fill="#FF1493" stroke="#000" stroke-width="1.05"/>
<circle cx="128.9" cy="908.9" r="7.15" fill="#800080" stroke="#000" stroke-width="1.05"/>
</g>
<clipPath id="c6"><rect x="383.6" y="712.4" width="299.4" height="293.9"/></clipPath>
<rect x="383.6" y="712.4" width="299.4" height="293.9" fill="none" stroke="#222" stroke-width="1.3"/>
<line x1="380" y1="723.4" x2="383.6" y2="723.4" stroke="#222" stroke-width="1.3"/>
<line x1="380" y1="765.9" x2="383.6" y2="765.9" stroke="#222" stroke-width="1.3"/>
<line x1="380" y1="808.4" x2="383.6" y2="808.4" stroke="#222" stroke-width="1.3"/>
<line x1="380" y1="850.9" x2="383.6" y2="850.9" stroke="#222" stroke-width="1.3"/>
<line x1="380" y1="893.4" x2="383.6" y2="893.4" stroke="#222" stroke-width="1.3"/>
<line x1="380" y1="935.9" x2="383.6" y2="935.9" stroke="#222" stroke-width="1.3"/>
<line x1="380" y1="978.4" x2="383.6" y2="978.4" stroke="#222" stroke-width="1.3"/>
<line x1="394.2" y1="1006.3" x2="394.2" y2="1009.9" stroke="#222" stroke-width="1.3"/>
<text transform="translate(394.2,1021.8) scale(0.92,1)" text-anchor="middle" font-size="14.3" font-weight="bold" fill="#000">0</text>
<line x1="449.8" y1="1006.3" x2="449.8" y2="1009.9" stroke="#222" stroke-width="1.3"/>
<text transform="translate(449.8,1021.8) scale(0.92,1)" text-anchor="middle" font-size="14.3" font-weight="bold" fill="#000">50</text>
<line x1="505.4" y1="1006.3" x2="505.4" y2="1009.9" stroke="#222" stroke-width="1.3"/>
<text transform="translate(505.4,1021.8) scale(0.92,1)" text-anchor="middle" font-size="14.3" font-weight="bold" fill="#000">100</text>
<line x1="561" y1="1006.3" x2="561" y2="1009.9" stroke="#222" stroke-width="1.3"/>
<text transform="translate(561,1021.8) scale(0.92,1)" text-anchor="middle" font-size="14.3" font-weight="bold" fill="#000">150</text>
<line x1="616.6" y1="1006.3" x2="616.6" y2="1009.9" stroke="#222" stroke-width="1.3"/>
<text transform="translate(616.6,1021.8) scale(0.92,1)" text-anchor="middle" font-size="14.3" font-weight="bold" fill="#000">200</text>
<line x1="672.2" y1="1006.3" x2="672.2" y2="1009.9" stroke="#222" stroke-width="1.3"/>
<text transform="translate(672.2,1021.8) scale(0.92,1)" text-anchor="middle" font-size="14.3" font-weight="bold" fill="#000">250</text>
<text x="533.3" y="1043.1" text-anchor="middle" font-size="16" fill="#000" stroke="#000" stroke-width="0.25">Stele diameter (µm)</text>
<g font-size="13.6" fill="#000" stroke="#000" stroke-width="0.25">
<text x="445.6" y="737">SMA: -0.009</text>
<text x="445.6" y="754.8">SMA</text>
<text x="482.5" y="754.8"><tspan font-style="italic">R</tspan><tspan dx="0.6" dy="-6.5" font-size="10.2">2</tspan><tspan dy="6.5"> = 0.03, </tspan><tspan font-style="italic">P</tspan> = 0.5217</text>
<text x="445.6" y="771.8">PIC</text>
<text x="483.3" y="771.8"><tspan font-style="italic">R</tspan><tspan dx="0.6" dy="-6.5" font-size="10.2">2</tspan><tspan dy="6.5"> = 0.003, </tspan><tspan font-style="italic">P</tspan> = 0.8419</text>
</g>
<g clip-path="url(#c6)">
<line x1="394.2" y1="818" x2="672.4" y2="999.9" stroke="#000" stroke-width="1.3" stroke-dasharray="6 4"/>
<g stroke="#2a2a2a" stroke-width="1" fill="none">
<path d="M488.2 800V847.3M486 800h4.4M486 847.3h4.4"/>
<path d="M443.6 848.3V896.5M441.4 848.3h4.4M441.4 896.5h4.4"/>
<path d="M469.7 867.4V898M467.5 867.4h4.4M467.5 898h4.4"/>
<path d="M440.1 882.7H499.3M440.1 880.5v4.4M499.3 880.5v4.4"/>
<path d="M488 852.2V913.8M485.8 852.2h4.4M485.8 913.8h4.4"/>
<path d="M476.7 883H499.3M476.7 880.8v4.4M499.3 880.8v4.4"/>
<path d="M480.5 863.6V916.2M478.3 863.6h4.4M478.3 916.2h4.4"/>
<path d="M463.7 887V917M461.5 887h4.4M461.5 917h4.4"/>
<path d="M450.6 902H476.4M450.6 899.8v4.4M476.4 899.8v4.4"/>
<path d="M503.4 896.3H529.5M503.4 894.1v4.4M529.5 894.1v4.4"/>
<path d="M504.3 894.2H528.8M504.3 892v4.4M528.8 892v4.4"/>
<path d="M511 874.5V943.3M508.8 874.5h4.4M508.8 943.3h4.4"/>
<path d="M503.1 892.6V939.2M500.9 892.6h4.4M500.9 939.2h4.4"/>
<path d="M484.2 915.9H522.7M484.2 913.7v4.4M522.7 913.7v4.4"/>
<path d="M490.6 887.3V965.5M488.4 887.3h4.4M488.4 965.5h4.4"/>
<path d="M473.7 926.4H506.9M473.7 924.2v4.4M506.9 924.2v4.4"/>
<path d="M515.7 928.7V955.8M513.5 928.7h4.4M513.5 955.8h4.4"/>
<path d="M505.7 942.2H525.7M505.7 940v4.4M525.7 940v4.4"/>
<path d="M552.8 854.2V897.6M550.6 854.2h4.4M550.6 897.6h4.4"/>
<path d="M538.5 875.9H567.2M538.5 873.7v4.4M567.2 873.7v4.4"/>
<path d="M548.4 864.1V935.2M546.2 864.1h4.4M546.2 935.2h4.4"/>
<path d="M523.6 899.9H573.2M523.6 897.7v4.4M573.2 897.7v4.4"/>
<path d="M631 863.2H662.3M631 861v4.4M662.3 861v4.4"/>
<path d="M580.6 969.8H608.3M580.6 967.6v4.4M608.3 967.6v4.4"/>
</g>
<circle cx="443.6" cy="872.3" r="7.15" fill="#0000FF" stroke="#000" stroke-width="1.05"/>
<circle cx="463.7" cy="902" r="7.15" fill="#0000FF" stroke="#000" stroke-width="1.05"/>
<circle cx="516.6" cy="896.3" r="7.15" fill="#0000FF" stroke="#000" stroke-width="1.05"/>
<circle cx="516.2" cy="894.2" r="7.15" fill="#0000FF" stroke="#000" stroke-width="1.05"/>
<circle cx="515.7" cy="942.2" r="7.15" fill="#0000FF" stroke="#000" stroke-width="1.05"/>
<circle cx="548.4" cy="899.9" r="7.15" fill="#0000FF" stroke="#000" stroke-width="1.05"/>
<circle cx="646.6" cy="863.2" r="7.15" fill="#0000FF" stroke="#000" stroke-width="1.05"/>
<circle cx="594.7" cy="969.8" r="7.15" fill="#0000FF" stroke="#000" stroke-width="1.05"/>
<circle cx="488" cy="883" r="7.15" fill="#A52A2A" stroke="#000" stroke-width="1.05"/>
<circle cx="552.8" cy="875.9" r="7.15" fill="#A52A2A" stroke="#000" stroke-width="1.05"/>
<circle cx="488.2" cy="823.6" r="7.15" fill="#FF0000" stroke="#000" stroke-width="1.05"/>
<circle cx="503.1" cy="915.9" r="7.15" fill="#FF0000" stroke="#000" stroke-width="1.05"/>
<circle cx="469.7" cy="882.7" r="7.15" fill="#FFA500" stroke="#000" stroke-width="1.05"/>
<circle cx="480.5" cy="889.9" r="7.15" fill="#00FF00" stroke="#000" stroke-width="1.05"/>
<circle cx="490.6" cy="926.4" r="7.15" fill="#FF1493" stroke="#000" stroke-width="1.05"/>
<circle cx="511" cy="908.9" r="7.15" fill="#800080" stroke="#000" stroke-width="1.05"/>
</g>
<rect x="237.6" y="109.1" width="114.4" height="109.5" fill="#fff" stroke="#555" stroke-width="0.9"/>
<circle cx="248" cy="123.2" r="4.6" fill="#FFA500" stroke="#000" stroke-width="0.8"/>
<text x="258.5" y="127.3" font-size="11.4" fill="#000" stroke="#000" stroke-width="0.2">Taxodiaceae</text>
<circle cx="248" cy="136.88" r="4.6" fill="#FF1493" stroke="#000" stroke-width="0.8"/>
<text x="258.5" y="140.98" font-size="11.4" fill="#000" stroke="#000" stroke-width="0.2">Pinaceae</text>
<circle cx="248" cy="150.56" r="4.6" fill="#800080" stroke="#000" stroke-width="0.8"/>
<text x="258.5" y="154.66" font-size="11.4" fill="#000" stroke="#000" stroke-width="0.2">Hamamelidaceae</text>
<circle cx="248" cy="164.24" r="4.6" fill="#00FF00" stroke="#000" stroke-width="0.8"/>
<text x="258.5" y="168.34" font-size="11.4" fill="#000" stroke="#000" stroke-width="0.2">Anacardiaceae</text>
<circle cx="248" cy="177.92" r="4.6" fill="#FF0000" stroke="#000" stroke-width="0.8"/>
<text x="258.5" y="182.02" font-size="11.4" fill="#000" stroke="#000" stroke-width="0.2">Fagaceae</text>
<circle cx="248" cy="191.6" r="4.6" fill="#A52A2A" stroke="#000" stroke-width="0.8"/>
<text x="258.5" y="195.7" font-size="11.4" fill="#000" stroke="#000" stroke-width="0.2">Lauraceae</text>
<circle cx="248" cy="205.28" r="4.6" fill="#0000FF" stroke="#000" stroke-width="0.8"/>
<text x="258.5" y="209.38" font-size="11.4" fill="#000" stroke="#000" stroke-width="0.2">Magnoliaceae</text>
</svg></body></html>
